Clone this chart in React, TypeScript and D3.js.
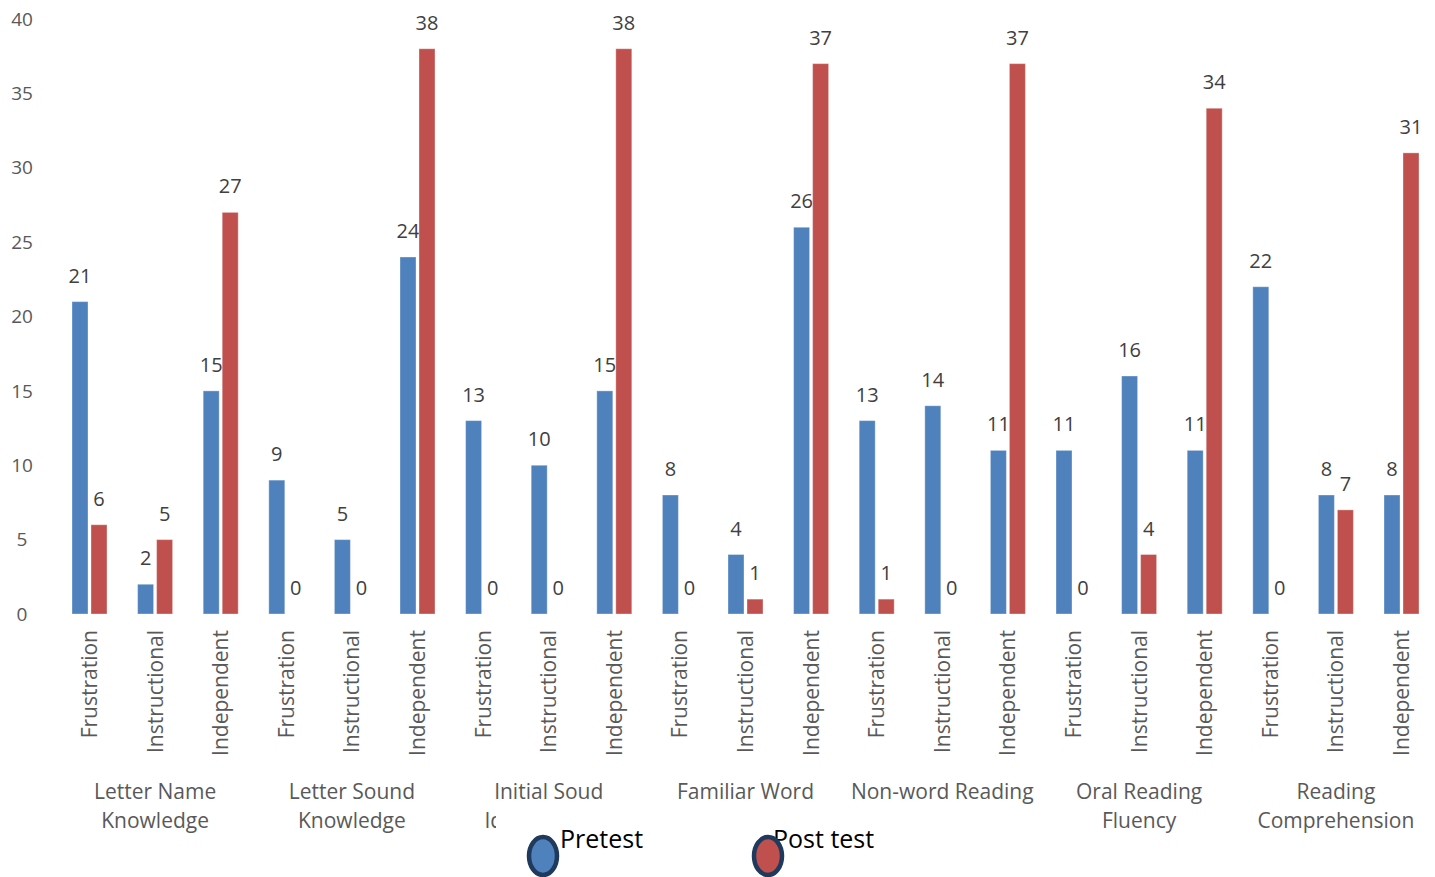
import React from "react";
import * as d3 from "d3";

const groups = [
  ["Letter Name", "Knowledge"],
  ["Letter Sound", "Knowledge"],
  ["Initial Soud", "Identification"],
  ["Familiar Word"],
  ["Non-word Reading"],
  ["Oral Reading", "Fluency"],
  ["Reading", "Comprehension"],
];
const levels = ["Frustration", "Instructional", "Independent"];
const pretest = [21, 2, 15, 9, 5, 24, 13, 10, 15, 8, 4, 26, 13, 14, 11, 11, 16, 11, 22, 8, 8];
const posttest = [6, 5, 27, 0, 0, 38, 0, 0, 38, 0, 1, 37, 1, 0, 37, 0, 4, 34, 0, 7, 31];
const yTicks = [0, 5, 10, 15, 20, 25, 30, 35, 40];
const seriesNames = ["Pretest", "Post test"];
const colors = ["#4F81BD", "#C0504D"];

const W = 1435;
const H = 877;
const FONT = "'Open Sans', sans-serif";
const legendMarkerX = [543, 768];
const legendTextX = [560, 773];

export default function App() {
  const cats = groups.flatMap((g, gi) => levels.map((l) => `${gi}-${l}`));
  const x = d3.scaleBand<string>().domain(cats).range([56.7, 1434.3]).paddingInner(0).paddingOuter(0);
  const y = d3.scaleLinear().domain([0, 40]).range([614, 19]);
  const bw = 16;
  const gap = 3;
  const step = x.step();

  return (
    <svg width={W} height={H} style={{ position: "absolute", left: 0, top: 0, display: "block" }}>
      <rect width={W} height={H} fill="#fff" />
      {yTicks.map((t) => (
        <text key={t} x={22} y={y(t)} dy="0.35em" textAnchor="middle" fontFamily={FONT} fontSize={19} fill="#595959">
          {t}
        </text>
      ))}
      {cats.map((c, i) => {
        const cx = (x(c) as number) + step / 2;
        const vals = [pretest[i], posttest[i]];
        return (
          <g key={c}>
            {vals.map((v, s) => {
              const bx = s === 0 ? cx - gap / 2 - bw : cx + gap / 2;
              return (
                <g key={s}>
                  <rect x={bx} y={y(v)} width={bw} height={y(0) - y(v)} fill={colors[s]} stroke="rgba(255,255,255,0.35)" strokeWidth={1} />
                  <text x={bx + bw / 2} y={y(v) - 19} textAnchor="middle" fontFamily={FONT} fontSize={20} fill="#404040">
                    {v}
                  </text>
                </g>
              );
            })}
            <text
              transform={`translate(${cx + 7.5},630) rotate(-90)`}
              textAnchor="end"
              fontFamily={FONT}
              fontSize={21}
              fill="#595959"
            >
              {levels[i % 3]}
            </text>
          </g>
        );
      })}
      {groups.map((g, gi) => {
        const cx = (x(`${gi}-Instructional`) as number) + step / 2;
        return (
          <text key={gi} x={cx} y={799} textAnchor="middle" fontFamily={FONT} fontSize={21} fill="#595959">
            {g.map((line, li) => (
              <tspan key={li} x={cx} dy={li === 0 ? 0 : 29}>
                {line}
              </tspan>
            ))}
          </text>
        );
      })}
      <rect x={496} y={806} width={420} height={71} fill="#fff" />
      {seriesNames.map((n, i) => (
        <g key={n}>
          <text x={legendTextX[i]} y={848} fontFamily={FONT} fontSize={25} fill="#000">
            {n}
          </text>
          <ellipse cx={legendMarkerX[i]} cy={856} rx={14} ry={19} fill={colors[i]} stroke="#1F3A5C" strokeWidth={4.5} />
        </g>
      ))}
    </svg>
  );
}
